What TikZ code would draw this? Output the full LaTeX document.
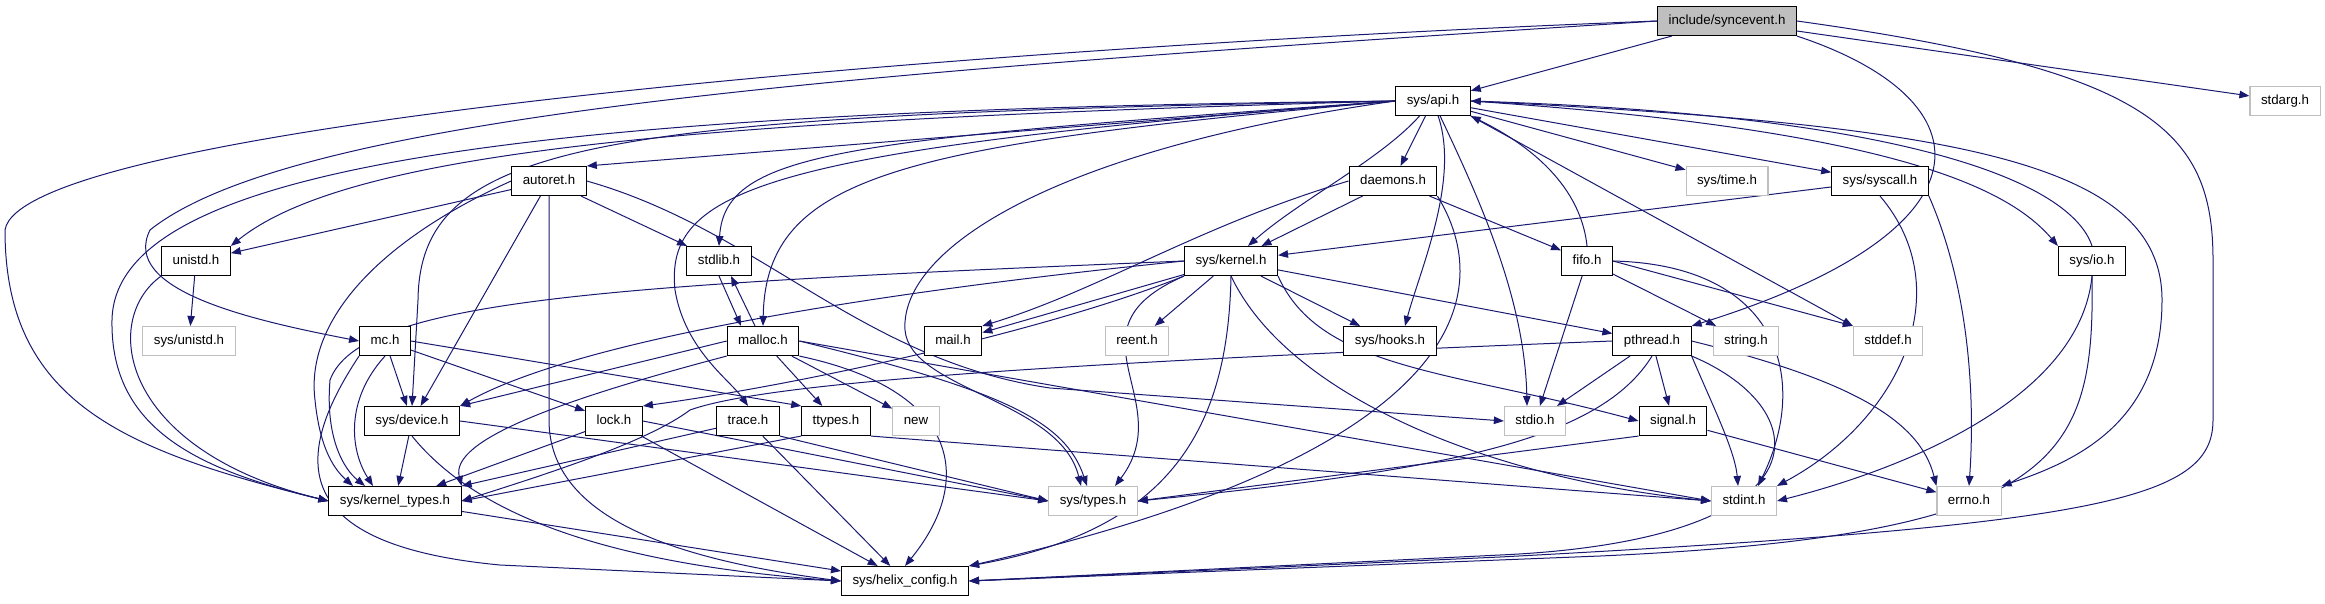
\documentclass[tikz,border=0pt]{standalone}
\usepackage{fontspec}
\setmainfont{Liberation Sans}
\usetikzlibrary{arrows.meta,backgrounds}
\definecolor{navyedge}{RGB}{25,25,112}
\definecolor{grayline}{RGB}{191,191,191}
\definecolor{rootgray}{RGB}{191,191,191}
\tikzset{
  box/.style={draw=black, line width=1.1pt, fill=white, minimum height=29pt, inner xsep=11pt, text height=9.6pt, text depth=2.8pt, font=\fontsize{13.3}{15}\selectfont},
  extbox/.style={box, draw=grayline},
  rootbox/.style={box, fill=rootgray},
  dep/.style={-{Triangle[length=10pt,width=7.5pt]}, line width=1pt, draw=navyedge}
}
\begin{document}
\begin{tikzpicture}[x=1pt,y=-1pt]
\useasboundingbox (0,0) rectangle (2325,603);
\node[rootbox] (sync) at (1727,21) {include/syncevent.h};
\node[box] (api) at (1433,101) {sys/api.h};
\node[extbox] (stdarg) at (2285,101) {stdarg.h};
\node[box] (autoret) at (549,181) {autoret.h};
\node[box] (daemons) at (1393,181) {daemons.h};
\node[extbox] (systime) at (1727,181) {sys/time.h};
\node[box] (syscall) at (1880,181) {sys/syscall.h};
\node[box] (unistd) at (196,261) {unistd.h};
\node[box] (stdlib) at (719,261) {stdlib.h};
\node[box] (kernel) at (1231,261) {sys/kernel.h};
\node[box] (fifo) at (1587,261) {fifo.h};
\node[box] (sysio) at (2092,261) {sys/io.h};
\node[extbox] (sysunistd) at (189,341) {sys/unistd.h};
\node[box] (mc) at (385,341) {mc.h};
\node[box] (malloc) at (763,341) {malloc.h};
\node[box] (mail) at (953,341) {mail.h};
\node[extbox] (reent) at (1137,341) {reent.h};
\node[box] (hooks) at (1390,341) {sys/hooks.h};
\node[box] (pthread) at (1652,341) {pthread.h};
\node[extbox] (string) at (1746,341) {string.h};
\node[extbox] (stddef) at (1888,341) {stddef.h};
\node[box] (device) at (412,421) {sys/device.h};
\node[box] (lock) at (614,421) {lock.h};
\node[box] (trace) at (748,421) {trace.h};
\node[box] (ttypes) at (836,421) {ttypes.h};
\node[extbox] (new) at (916,421) {new};
\node[extbox] (stdio) at (1535,421) {stdio.h};
\node[box] (signal) at (1673,421) {signal.h};
\node[box] (ktypes) at (395,501) {sys/kernel\_types.h};
\node[extbox] (systypes) at (1093,501) {sys/types.h};
\node[extbox] (stdint) at (1744,501) {stdint.h};
\node[extbox] (errno) at (1969,501) {errno.h};
\node[box] (helix) at (905,581) {sys/helix\_config.h};
\begin{scope}[on background layer]
\draw[dep] (sync) -- (api);
\draw[dep] (sync) -- (stdarg);
\draw[dep] (sync.west) .. controls (900,50) and (20,130) .. (5,230) .. controls (5,400) and (120,450) .. (ktypes.west);
\draw[dep] (sync.west) .. controls (900,70) and (300,110) .. (150,230) .. controls (120,290) and (250,320) .. (mc.west);
\draw[dep] (sync.south east) .. controls (1990,100) and (2000,230) .. (pthread.north east);
\draw[dep] (sync.east) .. controls (2150,70) and (2213,130) .. (2213,260) -- (2213,420) .. controls (2213,500) and (2100,525) .. (1500,557) -- (helix.east);
\draw[dep] (api.west) -- (autoret.north east);
\draw[dep] (api) -- (daemons);
\draw[dep] (api) .. controls (1380,160) and (1300,200) .. (kernel);
\draw[dep] (api) -- (systime);
\draw[dep] (api) -- (syscall);
\draw[dep] (api.east) .. controls (1900,130) and (2010,190) .. (sysio.north west);
\draw[dep] (sysio.north) .. controls (2070,180) and (1900,115) .. (api.east);
\draw[dep] (fifo.north) .. controls (1580,180) and (1520,140) .. (api.south east);
\draw[dep] (api.west) .. controls (700,120) and (350,150) .. (unistd.north east);
\draw[dep] (api.west) .. controls (500,110) and (115,170) .. (112,320) .. controls (110,430) and (200,470) .. (ktypes.west);
\draw[dep] (api.west) .. controls (600,115) and (420,140) .. (418,300) -- (device.north);
\draw[dep] (api.west) .. controls (850,140) and (725,150) .. (stdlib.north);
\draw[dep] (api.west) .. controls (900,145) and (766,175) .. (malloc.north);
\draw[dep] (api.west) .. controls (760,150) and (665,190) .. (675,290) .. controls (685,350) and (730,380) .. (trace.north);
\draw[dep] (api.west) .. controls (1050,150) and (900,250) .. (905,330) .. controls (910,390) and (1060,400) .. ([xshift=-12]systypes.north);
\draw[dep] (api.south east) -- (stddef.north west);
\draw[dep] (api) .. controls (1480,200) and (1525,300) .. ([xshift=-8]stdio.north);
\draw[dep] (api) .. controls (1460,180) and (1420,270) .. ([xshift=15]hooks.north);
\draw[dep] (api.east) .. controls (1950,125) and (2162,160) .. (2162,300) .. controls (2162,420) and (2080,460) .. (errno.north east);
\draw[dep] (daemons) -- (kernel);
\draw[dep] (daemons.west) .. controls (1200,225) and (1100,290) .. (mail.north east);
\draw[dep] (daemons) -- (fifo);
\draw[dep] (daemons.south east) .. controls (1495,290) and (1475,450) .. (helix.north east);
\draw[dep] (syscall) -- (kernel);
\draw[dep] (syscall.south) .. controls (1960,290) and (1900,420) .. (stdint.north east);
\draw[dep] (syscall.south east) .. controls (1970,290) and (1975,400) .. (errno.north);
\draw[dep] (autoret) -- (unistd);
\draw[dep] (autoret) -- (stdlib);
\draw[dep] (autoret) -- (device);
\draw[dep] (autoret.west) .. controls (380,240) and (305,320) .. (315,400) .. controls (320,450) and (335,470) .. ([xshift=-42]ktypes.north);
\draw[dep] (autoret.south) -- (549,420) .. controls (549,520) and (680,560) .. (helix.west);
\draw[dep] (autoret.east) .. controls (760,230) and (860,360) .. (1050,388) -- (stdio.west);
\draw[dep] (unistd) -- (sysunistd);
\draw[dep] (unistd.south west) .. controls (100,320) and (120,450) .. (ktypes.west);
\draw[dep] (stdlib.south) -- ([xshift=-22]malloc.north);
\draw[dep] ([xshift=-8]malloc.north) -- ([xshift=12]stdlib.south);
\draw[dep] (kernel.west) .. controls (600,285) and (360,300) .. (330,380) .. controls (325,440) and (345,470) .. ([xshift=-30]ktypes.north);
\draw[dep] (kernel.west) .. controls (800,300) and (560,350) .. (device.north east);
\draw[dep] (kernel.south west) .. controls (1050,330) and (800,385) .. (lock.north east);
\draw[dep] (kernel) -- (mail);
\draw[dep] (kernel) -- (reent);
\draw[dep] (kernel.south west) .. controls (1060,330) and (1180,400) .. ([xshift=22]systypes.north);
\draw[dep] (kernel.south) .. controls (1228,430) and (1170,530) .. (helix.north east);
\draw[dep] (kernel) -- (hooks);
\draw[dep] (kernel) -- (pthread);
\draw[dep] (kernel.south east) .. controls (1320,370) and (1450,370) .. (signal.west);
\draw[dep] (kernel.south) .. controls (1290,400) and (1500,480) .. (stdint.west);
\draw[dep] (mc) -- (device);
\draw[dep] (mc) -- (lock);
\draw[dep] (mc.east) -- (ttypes.north west);
\draw[dep] (mc.south) .. controls (345,400) and (350,450) .. ([xshift=-22]ktypes.north);
\draw[dep] (mc.south west) .. controls (290,460) and (290,545) .. (500,565) -- (helix.west);
\draw[dep] (malloc.west) -- (device.north east);
\draw[dep] (malloc.south west) .. controls (560,400) and (450,440) .. (ktypes.north east);
\draw[dep] (malloc) -- (ttypes);
\draw[dep] (malloc) -- (new);
\draw[dep] (malloc.south east) .. controls (960,390) and (975,480) .. (helix.north);
\draw[dep] (malloc.east) .. controls (1000,390) and (1065,420) .. ([xshift=-6]systypes.north);
\draw[dep] (malloc.east) -- (stdint.west);
\draw[dep] (device) -- (ktypes);
\draw[dep] (device.south) .. controls (480,520) and (620,565) .. (helix.west);
\draw[dep] (device.east) -- (systypes.west);
\draw[dep] (lock) -- (ktypes);
\draw[dep] (lock) -- (helix);
\draw[dep] (lock.east) -- (systypes.west);
\draw[dep] (trace) -- (ktypes);
\draw[dep] (trace) -- (helix);
\draw[dep] (trace.south east) -- (systypes.west);
\draw[dep] (ttypes.south west) -- (ktypes.east);
\draw[dep] (ttypes.south east) -- (stdint.west);
\draw[dep] (ktypes) -- (helix);
\draw[dep] (fifo) -- (stdio);
\draw[dep] (fifo) -- (string);
\draw[dep] (fifo.east) -- (stddef.north west);
\draw[dep] (fifo.east) .. controls (1780,265) and (1810,380) .. ([xshift=14]stdint.north);
\draw[dep] (sysio.south) .. controls (2080,400) and (1900,470) .. (stdint.east);
\draw[dep] (sysio.south) .. controls (2095,460) and (2060,535) .. (1600,556) -- (helix.east);
\draw[dep] (pthread) -- (stdio);
\draw[dep] (pthread) -- (signal);
\draw[dep] (pthread.south east) .. controls (1710,400) and (1735,450) .. ([xshift=-6]stdint.north);
\draw[dep] (pthread.east) .. controls (1850,380) and (1920,420) .. (errno.north west);
\draw[dep] (pthread.south) .. controls (1600,440) and (1450,470) .. (systypes.east);
\draw[dep] (pthread.west) .. controls (1000,365) and (760,385) .. (690,410) .. controls (650,440) and (560,470) .. (ktypes.east);
\draw[dep] (pthread.south east) .. controls (1820,410) and (1830,540) .. (1500,555) -- (helix.east);
\draw[dep] (signal.south west) -- (systypes.east);
\draw[dep] (signal) -- (errno);
\end{scope}
\end{tikzpicture}
\end{document}
